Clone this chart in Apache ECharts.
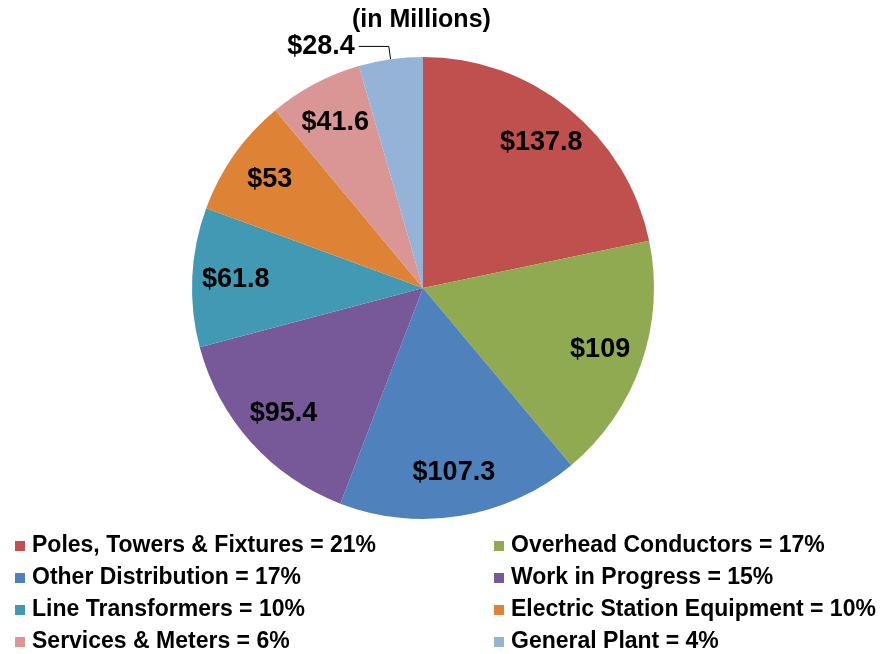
<!DOCTYPE html>
<html>
<head>
<meta charset="utf-8">
<script src="https://cdn.jsdelivr.net/npm/echarts@6/dist/echarts.min.js"></script>
<style>
html,body{margin:0;padding:0;background:#fff;}
#main{width:880px;height:654px;}
</style>
</head>
<body>
<div id="main"></div>
<script>
// 数据
var names = ['Poles, Towers & Fixtures', 'Overhead Conductors', 'Other Distribution', 'Work in Progress',
             'Line Transformers', 'Electric Station Equipment', 'Services & Meters', 'General Plant'];
var values = [137.8, 109, 107.3, 95.4, 61.8, 53, 41.6, 28.4];
var percents = ['21%', '17%', '17%', '15%', '10%', '10%', '6%', '4%'];
var colors = ['#C0504D', '#8FAA50', '#4F81BD', '#77599A', '#4299B3', '#DE8236', '#D99694', '#95B3D7'];

var font = 'Liberation Sans, Arial, sans-serif';
var radius = 231;
var shift = 69; // 标签从半径中点向外移

var total = 0;
for (var i = 0; i < values.length; i++) total += values[i];
var midAngles = [];
var acc = 0;
for (var i = 0; i < values.length; i++) {
    midAngles.push((acc + values[i] / 2) / total * Math.PI * 2);
    acc += values[i];
}

var pieData = [];
for (var i = 0; i < names.length; i++) {
    var item = {name: names[i], value: values[i], itemStyle: {color: colors[i]}};
    if (i == names.length - 1) {
        // 最小的一块标签放外面，带引线
        item.label = {position: 'outside', distanceToLabelLine: 4};
        item.labelLine = {show: true, length: 13, length2: 30, lineStyle: {color: '#000', width: 1}};
    }
    pieData.push(item);
}

var leftNames = [], rightNames = [];
for (var i = 0; i < names.length; i++) {
    if (i % 2 == 0) leftNames.push(names[i]); else rightNames.push(names[i]);
}

function legendText(name) {
    return name + ' = ' + percents[names.indexOf(name)];
}

var legendBase = {
    orient: 'vertical',
    top: 534,
    height: 130,
    padding: 0,
    itemWidth: 10,
    itemHeight: 10,
    itemGap: 8,
    icon: 'rect',
    formatter: legendText,
    selectedMode: false,
    textStyle: {fontFamily: font, fontWeight: 'bold', fontSize: 23, lineHeight: 24, color: '#000', padding: [0, 0, 0, 2]}
};

var myChart = echarts.init(document.getElementById('main'));
var option = {
    backgroundColor: '#fff',
    animation: false,
    title: {
        text: '(in Millions)',
        left: 347,
        top: 3,
        padding: [5, 5, 5, 5],
        textStyle: {fontFamily: font, fontWeight: 'bold', fontSize: 25, color: '#000'}
    },
    legend: [
        Object.assign({}, legendBase, {left: 15, data: leftNames}),
        Object.assign({}, legendBase, {left: 494, data: rightNames})
    ],
    series: [{
        type: 'pie',
        center: [423, 288],
        radius: radius,
        startAngle: 90,
        clockwise: true,
        avoidLabelOverlap: false,
        label: {
            show: true,
            position: 'inside',
            formatter: function (p) { return '$' + p.value; },
            fontFamily: font,
            fontWeight: 'bold',
            fontSize: 27,
            color: '#000'
        },
        labelLine: {show: false},
        labelLayout: function (p) {
            if (p.dataIndex == values.length - 1) return {};
            var a = midAngles[p.dataIndex];
            return {dx: Math.sin(a) * shift, dy: -Math.cos(a) * shift};
        },
        itemStyle: {borderWidth: 0},
        emphasis: {disabled: true},
        data: pieData
    }]
};
myChart.setOption(option);
</script>
</body>
</html>
